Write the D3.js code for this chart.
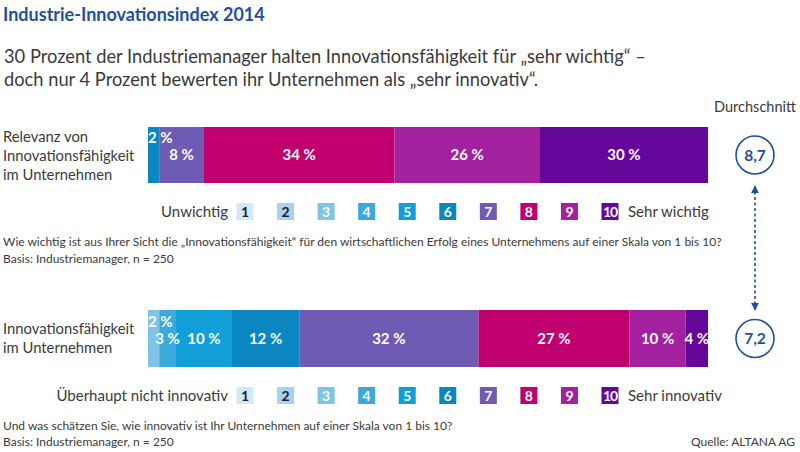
<!DOCTYPE html>
<html><head><meta charset="utf-8">
<script src="https://cdn.jsdelivr.net/npm/d3@7"></script>
<style>
body{margin:0;background:#fff;}
svg{display:block;font-family:Lato,"Noto Sans",sans-serif;}
</style></head>
<body>
<svg id="c" width="800" height="452"></svg>
<script>
const categories = ["1","2","3","4","5","6","7","8","9","10"];
const relevanzValues = [0,0,0,0,0,2,8,34,26,30];
const innovativValues = [0,0,2,3,10,12,32,27,10,4];
const averages = [8.7, 7.2];
const colors = ["#d3e9f6","#a8d2ec","#7dc4e7","#3aa9dd","#129fd9","#0b86c1","#6f5ab4","#c0006e","#a3219f","#64069a"];
const rowLabels = [["Relevanz von","Innovationsfähigkeit","im Unternehmen"],["Innovationsfähigkeit","im Unternehmen"]];
const lowLabels = ["Unwichtig","Überhaupt nicht innovativ"];
const highLabels = ["Sehr wichtig","Sehr innovativ"];

const svg = d3.select("#c");
const textCol = "#3a3a3a";
const blue = "#1f4f9e";

const x = d3.scaleLinear().domain([0,100]).range([148,708]);
const legendX = d3.scalePoint().domain(categories).range([245,610]);
const fmt = v => d3.format(".1f")(v).replace(".", ",");

// Title
svg.append("text").attr("x",3).attr("y",21).attr("fill",blue).attr("font-weight","bold")
  .attr("font-size",18).text("Industrie-Innovationsindex 2014");
svg.append("text").attr("x",4).attr("y",63).attr("fill",textCol).attr("font-size",18.3)
  .text("30 Prozent der Industriemanager halten Innovationsfähigkeit für „sehr wichtig“ –");
svg.append("text").attr("x",4).attr("y",86).attr("fill",textCol).attr("font-size",18.3)
  .text("doch nur 4 Prozent bewerten ihr Unternehmen als „sehr innovativ“.");
svg.append("text").attr("x",755).attr("y",112).attr("text-anchor","middle").attr("fill",textCol)
  .attr("font-size",14.5).text("Durchschnitt");

const rows = [
  {values: relevanzValues, y0:127, y1:183, legY:203, labelY:[142,161,180]},
  {values: innovativValues, y0:310, y1:367, legY:387, labelY:[334,353]}
];

rows.forEach((r,ri) => {
  const segs = [];
  let acc = 0;
  r.values.forEach((v,i) => { if (v>0){ segs.push({cat:i, v, start:acc}); acc += v; } });
  const g = svg.append("g");
  g.selectAll("rect").data(segs).join("rect")
    .attr("x", d => x(d.start)).attr("width", d => x(d.start+d.v)-x(d.start))
    .attr("y", r.y0).attr("height", r.y1-r.y0)
    .attr("fill", d => colors[d.cat]);
  const mid = (r.y0+r.y1)/2;
  g.selectAll("text").data(segs).join("text")
    .attr("x", d => d.v < 2.5 ? x(d.start) : x(d.start + d.v/2))
    .attr("y", d => d.v < 2.5 ? mid - 12 : mid + 5)
    .attr("text-anchor", d => d.v < 2.5 ? "start" : "middle")
    .attr("fill","#fff").attr("font-weight","bold").attr("font-size",15)
    .text(d => d.v + " %");
  // row labels
  const lines = rowLabels[ri];
  svg.append("g").selectAll("text").data(lines).join("text")
    .attr("x",3).attr("y",(d,i)=>r.labelY[i]).attr("fill",textCol).attr("font-size",14.8)
    .text(d=>d);
  // legend
  const lg = svg.append("g");
  const bs = 17;
  lg.selectAll("rect").data(categories).join("rect")
    .attr("x", d => legendX(d)-bs/2).attr("y", r.legY).attr("width",bs).attr("height",bs)
    .attr("fill",(d,i)=>colors[i]);
  lg.selectAll("text").data(categories).join("text")
    .attr("x", d => legendX(d)).attr("y", r.legY+14).attr("text-anchor","middle")
    .attr("font-weight","bold").attr("font-size",14)
    .attr("fill",(d,i)=> i<2 ? "#1c1c3c" : "#fff")
    .attr("letter-spacing", d => d.length>1 ? -1 : 0)
    .text(d=>d);
  lg.append("text").attr("x",228).attr("y",r.legY+14).attr("text-anchor","end")
    .attr("fill",textCol).attr("font-size",15).text(lowLabels[ri]);
  lg.append("text").attr("x",628).attr("y",r.legY+14)
    .attr("fill",textCol).attr("font-size",15).text(highLabels[ri]);
  // average circle
  const cy = mid;
  svg.append("circle").attr("cx",755).attr("cy",cy).attr("r",19)
    .attr("fill","#fff").attr("stroke",blue).attr("stroke-width",1.6);
  svg.append("text").attr("x",755).attr("y",cy+5.5).attr("text-anchor","middle")
    .attr("fill",blue).attr("font-weight","bold").attr("font-size",15.5).text(fmt(averages[ri]));
});

// dashed double arrow
const defs = svg.append("defs");
defs.append("marker").attr("id","ah").attr("viewBox","0 0 10 10").attr("refX",9).attr("refY",5)
  .attr("markerWidth",5).attr("markerHeight",5).attr("orient","auto-start-reverse")
  .append("path").attr("d","M0,0L10,5L0,10Z").attr("fill",blue);
svg.append("line").attr("x1",755).attr("x2",755).attr("y1",186).attr("y2",310)
  .attr("stroke",blue).attr("stroke-width",1.6).attr("stroke-dasharray","3,2.5")
  .attr("marker-start","url(#ah)").attr("marker-end","url(#ah)");

// notes
const note = (t,xx,yy,anchor) => svg.append("text").attr("x",xx).attr("y",yy)
  .attr("fill",textCol).attr("font-size",12).attr("text-anchor",anchor||"start").text(t);
note("Wie wichtig ist aus Ihrer Sicht die „Innovationsfähigkeit“ für den wirtschaftlichen Erfolg eines Unternehmens auf einer Skala von 1 bis 10?",3,246);
note("Basis: Industriemanager, n = 250",3,263);
note("Und was schätzen Sie, wie innovativ ist Ihr Unternehmen auf einer Skala von 1 bis 10?",3,430);
note("Basis: Industriemanager, n = 250",3,446);
note("Quelle: ALTANA AG",795,446,"end");
</script>
</body></html>
